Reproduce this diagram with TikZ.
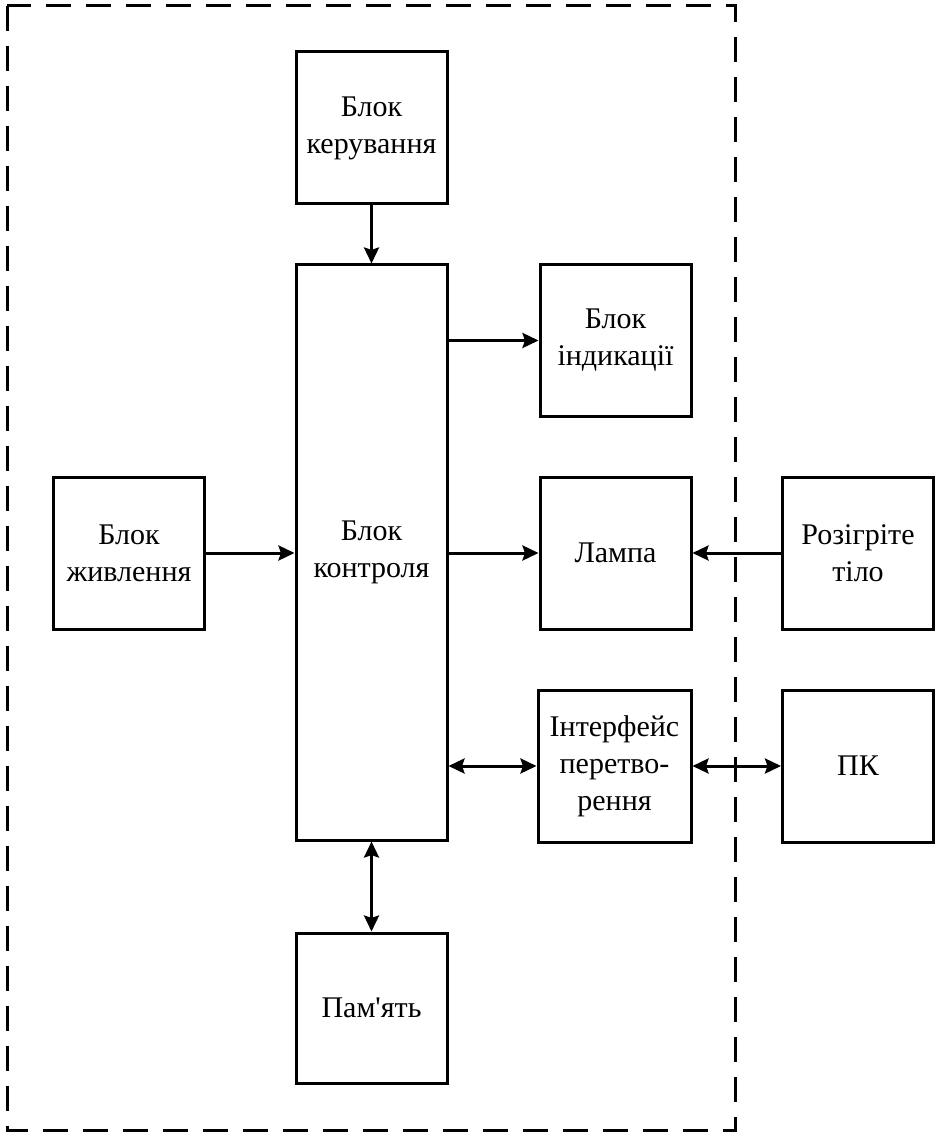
\documentclass[tikz,border=0pt]{standalone}
\usepackage{fontspec}
\setmainfont{Liberation Serif}
\newfontfamily\blockfont{Liberation Serif}
\usetikzlibrary{arrows.meta}

\begin{document}
\begin{tikzpicture}[x=0.5pt, y=-0.5pt, line width=1.5pt, >={Stealth[length=8pt, width=7.5pt, inset=1.2pt]}]

\tikzstyle{block}=[rectangle, draw=black, inner sep=0pt, align=center, minimum width=75.5pt, minimum height=76pt, font=\blockfont\fontsize{15}{18.5}\selectfont]
\useasboundingbox (0,0) rectangle (942,1138);

% outer frame
\draw[dash pattern=on 12.5pt off 7.5pt] (7,6) rectangle (735,1130);

\draw    (371.5, 128)   node[block] (ctrl)  {Блок\\керування}
         (371.5, 552.5) node[block, minimum height=287.5pt] (main) {Блок\\контроля}
         (615.5, 340.5) node[block] (ind)   {Блок\\індикації}
         (129,   553)   node[block] (pwr)   {Блок\\живлення}
         (615.5, 553)   node[block] (lamp)  {Лампа}
         (858,   553)   node[block] (body)  {Розігріте\\тіло}
         (614.5, 766)   node[block, minimum width=76.5pt] (iface) {Інтерфейс\\перетво-\\рення}
         (858,   766)   node[block] (pc)    {ПК}
         (371.5, 1008)  node[block, minimum height=75pt] (mem) {Пам\textquotesingle ять};

\draw[->]  (ctrl) -- (main);
\draw[->]  (main.east |- ind) -- (ind);
\draw[->]  (pwr.east) -- (pwr.east -| main.west);
\draw[->]  (main.east |- lamp) -- (lamp);
\draw[->]  (body) -- (lamp);
\draw[<->] (main.east |- iface) -- (iface);
\draw[<->] (iface) -- (pc);
\draw[<->] (main) -- (mem);

\end{tikzpicture}
\end{document}
